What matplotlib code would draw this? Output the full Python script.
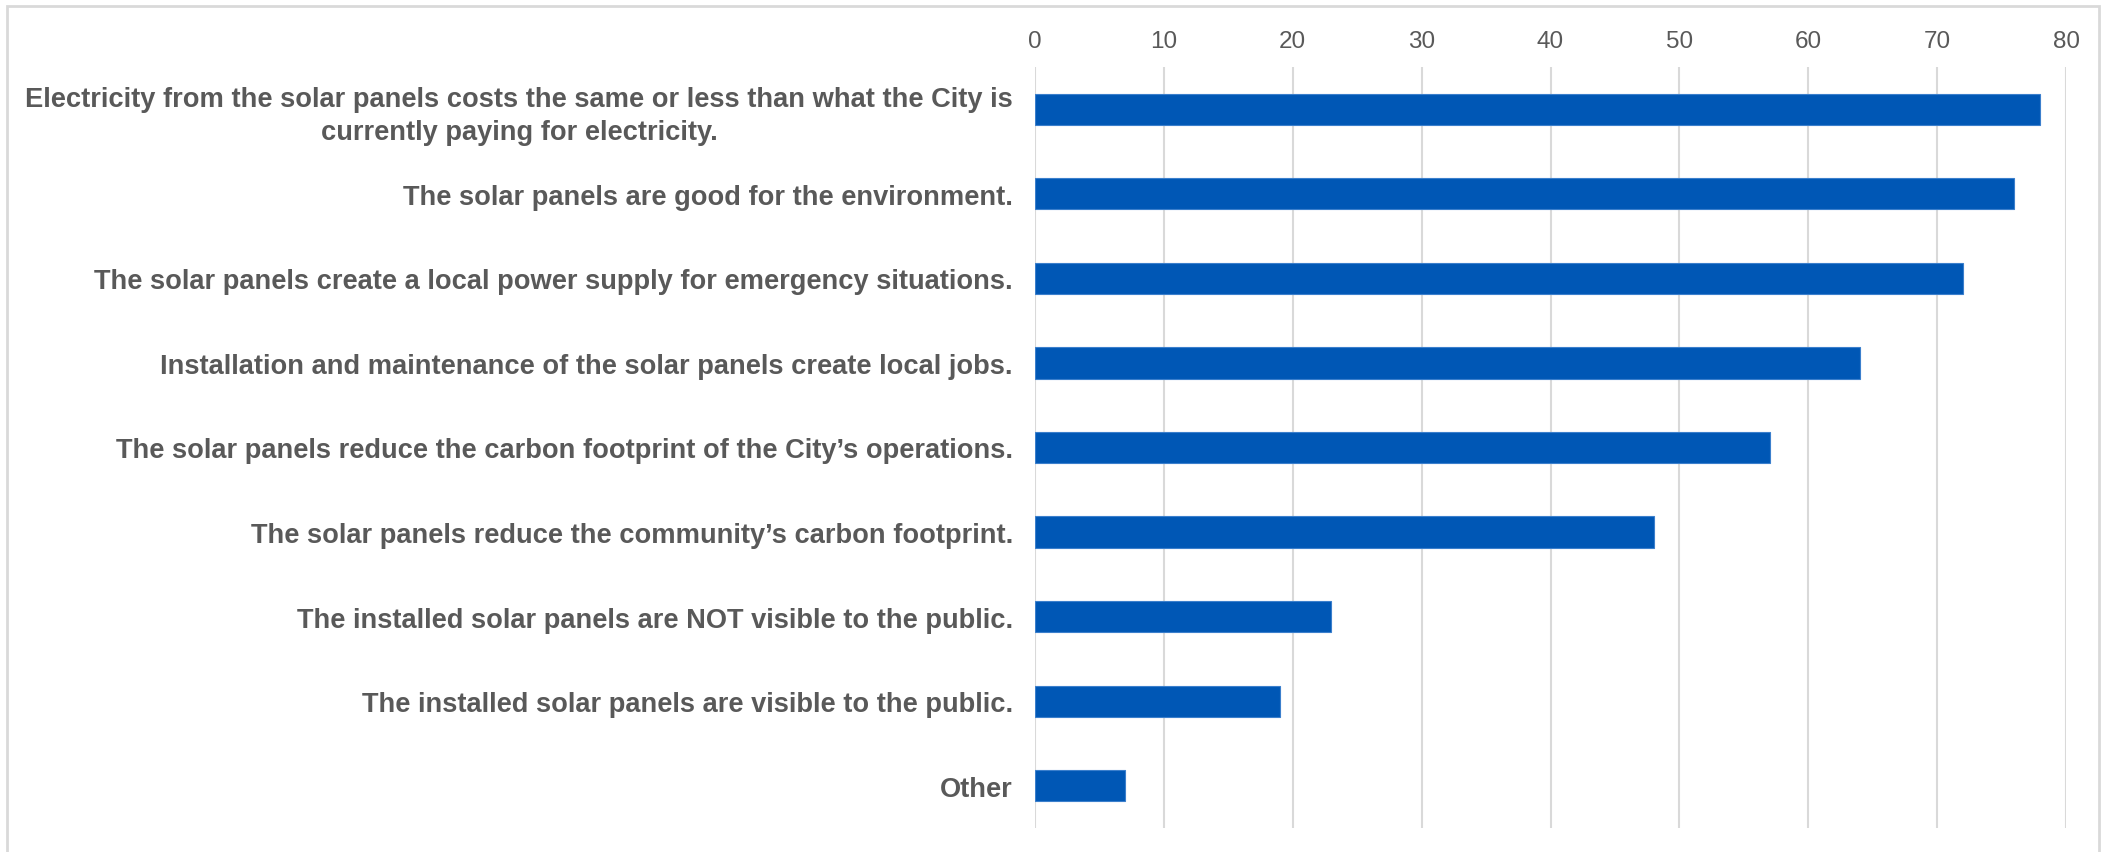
import matplotlib
matplotlib.use("Agg")
import matplotlib.pyplot as plt
from matplotlib.patches import Rectangle

# survey answers, top to bottom as in the chart
reasons = [
    "Electricity from the solar panels costs the same or less than what the City is\ncurrently paying for electricity.",
    "The solar panels are good for the environment.",
    "The solar panels create a local power supply for emergency situations.",
    "Installation and maintenance of the solar panels create local jobs.",
    "The solar panels reduce the carbon footprint of the City\u2019s operations.",
    "The solar panels reduce the community\u2019s carbon footprint.",
    "The installed solar panels are NOT visible to the public.",
    "The installed solar panels are visible to the public.",
    "Other",
]
counts = [78, 76, 72, 64, 57, 48, 23, 19, 7]
ticks = [0, 10, 20, 30, 40, 50, 60, 70, 80]

plt.rcParams['font.family'] = ['Liberation Sans', 'DejaVu Sans']

W, H = 2107, 853
fig = plt.figure(figsize=(W / 100, H / 100), dpi=100)
ax = fig.add_axes([1035 / W, 1 - 829 / H, (2066 - 1035) / W, (829 - 68) / H])

ypos = list(range(len(reasons)))
ax.barh(ypos, counts, height=0.37, color='#0057B5', edgecolor='#3B7FCC', linewidth=0.8, zorder=3)

ax.set_xlim(0, 80)
ax.set_ylim(len(reasons) - 0.5, -0.5)
ax.set_xticks(ticks)
ax.set_xticklabels([str(t) for t in ticks])
ax.xaxis.tick_top()
ax.tick_params(axis='x', length=0, pad=11, labelsize=17.5, labelcolor='#595959')
ax.set_yticks(ypos)
ax.set_yticklabels(reasons)
ax.tick_params(axis='y', length=0, pad=16, labelsize=19.6, labelcolor='#595959')
for lbl in ax.get_yticklabels():
    lbl.set_fontweight('bold')
    lbl.set_multialignment('center')
    lbl.set_linespacing(1.32)

ax.grid(axis='x', color='#D9D9D9', linewidth=1.5, zorder=0)
for s in ax.spines.values():
    s.set_visible(False)

# light border of the chart area
fig.patches.append(Rectangle((7 / W, -0.1), (2099 - 7) / W, 1.1 - 7 / H, transform=fig.transFigure,
                             fill=False, edgecolor='#D9D9D9', linewidth=2))

fig.savefig("out.png", dpi=100)
